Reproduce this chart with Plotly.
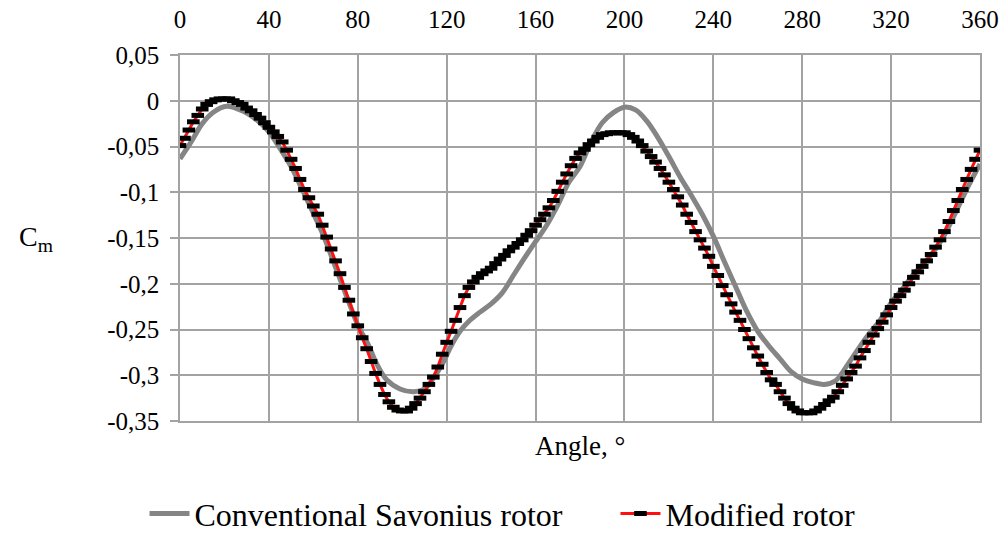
import plotly.graph_objects as go

# Conventional Savonius rotor (angle in degrees, Cm)
conv_angle = [0, 5, 10, 15, 21, 28, 35, 40, 45, 50, 55, 60, 65, 70, 75, 80, 85, 88, 93, 99,
              105, 110, 114, 118, 122, 126, 130, 135, 140, 145, 150, 155, 160, 165, 170, 175,
              180, 185, 190, 195, 200, 205, 210, 215, 220, 225, 230, 235, 240, 245, 250, 255,
              260, 265, 270, 275, 280, 285, 290, 295, 300, 305, 310, 315, 320, 325, 330, 335,
              340, 345, 350, 355, 360]
conv_cm = [-0.0635, -0.045, -0.025, -0.0125, -0.006, -0.011, -0.022, -0.034, -0.052, -0.072,
           -0.097, -0.123, -0.150, -0.182, -0.214, -0.245, -0.268, -0.285, -0.305, -0.315,
           -0.318, -0.315, -0.303, -0.288, -0.268, -0.252, -0.241, -0.231, -0.222, -0.210,
           -0.191, -0.172, -0.154, -0.136, -0.114, -0.089, -0.072, -0.045, -0.024, -0.013,
           -0.007, -0.010, -0.022, -0.040, -0.061, -0.083, -0.103, -0.124, -0.148, -0.176,
           -0.203, -0.230, -0.252, -0.268, -0.282, -0.296, -0.304, -0.308, -0.310, -0.306,
           -0.290, -0.272, -0.255, -0.240, -0.221, -0.206, -0.190, -0.177, -0.162, -0.142,
           -0.117, -0.092, -0.069]

# Modified rotor, sampled every 2 degrees
mod_angle = list(range(0, 361, 2))
mod_cm = [-0.049, -0.041, -0.032, -0.023, -0.016, -0.009, -0.004, -0.001, 0.001, 0.002,
          0.002, 0.002, 0.000, -0.002, -0.004, -0.008, -0.011, -0.015, -0.019, -0.024,
          -0.029, -0.034, -0.039, -0.045, -0.054, -0.064, -0.074, -0.086, -0.097, -0.106,
          -0.115, -0.124, -0.136, -0.149, -0.162, -0.175, -0.189, -0.204, -0.218, -0.233,
          -0.246, -0.259, -0.271, -0.285, -0.298, -0.310, -0.321, -0.329, -0.335, -0.338,
          -0.339, -0.339, -0.336, -0.331, -0.325, -0.318, -0.310, -0.302, -0.291, -0.277,
          -0.264, -0.252, -0.240, -0.226, -0.213, -0.204, -0.198, -0.193, -0.189, -0.186,
          -0.183, -0.178, -0.173, -0.169, -0.164, -0.160, -0.156, -0.152, -0.147, -0.142,
          -0.136, -0.130, -0.124, -0.117, -0.109, -0.099, -0.089, -0.080, -0.071, -0.063,
          -0.057, -0.053, -0.048, -0.044, -0.040, -0.037, -0.036, -0.035, -0.035, -0.035,
          -0.035, -0.037, -0.040, -0.044, -0.049, -0.055, -0.061, -0.067, -0.074, -0.081,
          -0.089, -0.097, -0.105, -0.114, -0.124, -0.133, -0.143, -0.152, -0.161, -0.170,
          -0.181, -0.191, -0.202, -0.212, -0.222, -0.231, -0.240, -0.250, -0.260, -0.270,
          -0.279, -0.288, -0.297, -0.305, -0.310, -0.318, -0.325, -0.331, -0.336, -0.339,
          -0.341, -0.341, -0.341, -0.339, -0.336, -0.332, -0.328, -0.324, -0.318, -0.311,
          -0.304, -0.297, -0.290, -0.281, -0.273, -0.264, -0.256, -0.249, -0.242, -0.234,
          -0.226, -0.219, -0.213, -0.207, -0.200, -0.193, -0.187, -0.181, -0.175, -0.168,
          -0.160, -0.152, -0.143, -0.132, -0.120, -0.109, -0.097, -0.086, -0.075, -0.064,
          -0.054]

x_ticks = [0, 40, 80, 120, 160, 200, 240, 280, 320, 360]
y_ticks = [-0.35, -0.3, -0.25, -0.2, -0.15, -0.1, -0.05, 0, 0.05]
y_ticktext = ["-0,35", "-0,3", "-0,25", "-0,2", "-0,15", "-0,1", "-0,05", "0", "0,05"]

FONT = "Liberation Serif"
GRID = "#a3a3a3"

fig = go.Figure()
fig.add_trace(go.Scatter(
    x=conv_angle, y=conv_cm, name="Conventional Savonius rotor" + "\u00a0" * 6,
    mode="lines", line=dict(color="#858585", width=5, shape="spline"),
))
fig.add_trace(go.Scatter(
    x=mod_angle, y=mod_cm, name="Modified rotor",
    mode="lines+markers", line=dict(color="#ff1010", width=3),
    marker=dict(symbol="line-ew", size=9, color="black",
                line=dict(color="black", width=5)),
))

fig.update_layout(
    width=1005, height=534,
    margin=dict(l=180, r=25, t=55, b=113),
    paper_bgcolor="white", plot_bgcolor="white",
    font=dict(family=FONT, size=25, color="black"),
    showlegend=True,
    legend=dict(orientation="h", xref="container", yref="container",
                x=0.5, xanchor="center", y=0.038, yanchor="middle",
                font=dict(size=32, family=FONT), itemwidth=40,
                bgcolor="rgba(0,0,0,0)"),
    xaxis=dict(range=[0, 360], side="top", tickvals=x_ticks, automargin=False,
               showgrid=True, gridcolor=GRID, gridwidth=1.5,
               showline=True, linecolor=GRID, linewidth=1.5, mirror=True,
               ticks="", ticklabelstandoff=15, zeroline=False,
               tickfont=dict(size=25, family=FONT)),
    yaxis=dict(range=[-0.35, 0.05], tickvals=y_ticks, ticktext=y_ticktext,
               automargin=False,
               showgrid=True, gridcolor=GRID, gridwidth=1.5,
               showline=True, linecolor=GRID, linewidth=1.5, mirror=True,
               ticks="outside", ticklen=8, tickcolor=GRID, tickwidth=1.5,
               ticklabelstandoff=6, zeroline=False,
               tickfont=dict(size=25, family=FONT)),
    annotations=[
        dict(text="Angle, \u00b0", xref="paper", yref="paper", x=0.5, y=0,
             xanchor="center", yanchor="top", yshift=-8, showarrow=False,
             font=dict(size=27, family=FONT)),
        dict(text="C<sub>m</sub>", xref="paper", yref="paper", x=-0.18, y=0.5,
             xanchor="center", yanchor="middle", showarrow=False,
             font=dict(size=28, family=FONT)),
    ],
)

fig.write_html("out.html")
